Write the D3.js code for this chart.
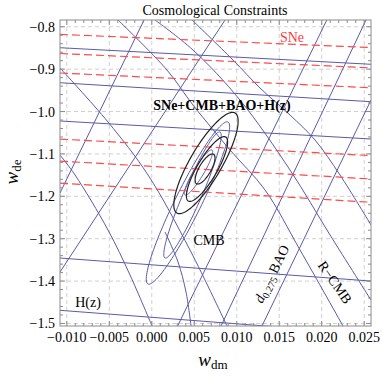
<!DOCTYPE html>
<html>
<head>
<meta charset="utf-8">
<script src="https://cdn.jsdelivr.net/npm/d3@7"></script>
<style>
  body { margin: 0; background: #fff; }
  text { font-family: "Liberation Serif", "DejaVu Serif", serif; }
</style>
</head>
<body>
<div id="chart"></div>
<script>
const WIDTH = 382, HEIGHT = 377;
const margin = {top: 20, right: 11, bottom: 51, left: 60};

// axis ranges and ticks
const xDomain = [-0.0108, 0.0258];
const yDomain = [-1.506, -0.784];
const xTicks = [-0.010, -0.005, 0.000, 0.005, 0.010, 0.015, 0.020, 0.025];
const yTicks = [-0.8, -0.9, -1.0, -1.1, -1.2, -1.3, -1.4, -1.5];

// SNe contours (red dashed), w_de at the left and right edge
const sneLeft  = [-0.818, -0.863, -0.909, -1.065, -1.117, -1.169];
const sneRight = [-0.849, -0.897, -0.944, -1.104, -1.159, -1.214];

// H(z) contours, w_de at the left and right edge
const hzLeft  = [-0.8494, -0.932, -1.0223, -1.3456, -1.469];
const hzRight = [-0.8885, -0.9768, -1.0648, -1.400, -1.525];

// d_0.275 BAO contours, [w_dm, w_de] end points
const bao = [
  [[-0.0108, -1.1922], [-0.00091, -0.784]],
  [[-0.0108, -1.3786], [0.00862, -0.784]],
  [[0.00304, -1.506], [0.0206, -0.784]],
  [[0.00815, -1.506], [0.02521, -0.784]],
  [[0.01297, -1.506], [0.0258, -0.9728]]
];

// R-CMB contours
const rcmb = [
  [[0.00474, -0.784], [0.00956, -0.8784], [0.01274, -0.9445], [0.01627, -1.0082], [0.01921, -1.0672], [0.02215, -1.1497], [0.0258, -1.2677]],
  [[0.00038, -0.784], [0.00485, -0.8548], [0.01038, -0.9728], [0.01627, -1.1379], [0.02098, -1.2913], [0.0258, -1.4447]],
  [[-0.00397, -0.784], [0.00179, -0.902], [0.00485, -0.9846], [0.00921, -1.0907], [0.01333, -1.1851], [0.01745, -1.3267], [0.02251, -1.506]],
  [[-0.0108, -0.8973], [-0.00515, -1.0247], [-0.00044, -1.1497], [0.0045, -1.3267], [0.00885, -1.506]],
  [[0.00156, -1.2842], [0.00309, -1.3550], [0.00403, -1.4258], [0.00462, -1.506]],
  [[-0.0108, -1.1026], [-0.00903, -1.1497], [-0.00515, -1.2795], [-0.00256, -1.3857], [0.00003, -1.506]]
];

// CMB and combined contours: centre, end of major axis, end of minor axis
const cmb = [
  {c: [0.00426, -1.2158], a: [0.00897, -1.0247], b: [0.00564, -1.2295]},
  {c: [0.00479, -1.1969], a: [0.00803, -1.0483], b: [0.00575, -1.2059]},
  {c: [0.00550, -1.1438], a: [0.00709, -1.0907], b: [0.00600, -1.1500]}
];
const joint = [
  {c: [0.00638, -1.1214], a: [0.00980, -1.0034], b: [0.00800, -1.1403]},
  {c: [0.00650, -1.1356], a: [0.00870, -1.0601], b: [0.00752, -1.1474]},
  {c: [0.00627, -1.1356], a: [0.00727, -1.1009], b: [0.00688, -1.1427]}
];

const width = WIDTH - margin.left - margin.right;
const height = HEIGHT - margin.top - margin.bottom;

const x = d3.scaleLinear().domain(xDomain).range([0, width]);
const y = d3.scaleLinear().domain(yDomain).range([height, 0]);

const svg = d3.select('#chart').append('svg')
    .attr('width', WIDTH)
    .attr('height', HEIGHT);

svg.append('defs').append('clipPath').attr('id', 'plotclip')
  .append('rect').attr('width', width).attr('height', height);

const g = svg.append('g')
    .attr('transform', 'translate(' + margin.left + ',' + margin.top + ')');

// grid
g.append('g').selectAll('line').data(xTicks).enter().append('line')
    .attr('x1', d => x(d)).attr('x2', d => x(d))
    .attr('y1', 0).attr('y2', height)
    .attr('stroke', '#d0d0d0').attr('stroke-dasharray', '4,3');
g.append('g').selectAll('line').data(yTicks).enter().append('line')
    .attr('y1', d => y(d)).attr('y2', d => y(d))
    .attr('x1', 0).attr('x2', width)
    .attr('stroke', '#d0d0d0').attr('stroke-dasharray', '4,3');

const plot = g.append('g').attr('clip-path', 'url(#plotclip)');
const line = d3.line().x(d => x(d[0])).y(d => y(d[1]));
const curve = d3.line().x(d => x(d[0])).y(d => y(d[1])).curve(d3.curveCatmullRom);
const BLUE = '#5a5aa8';

function ellipsePath(e) {
  // parametric ellipse built from the centre and the two conjugate half axes
  const cx = x(e.c[0]), cy = y(e.c[1]);
  const ux = x(e.a[0]) - cx, uy = y(e.a[1]) - cy;
  const vx = x(e.b[0]) - cx, vy = y(e.b[1]) - cy;
  const pts = d3.range(0, 2 * Math.PI + 0.01, Math.PI / 60).map(t =>
    [cx + ux * Math.cos(t) + vx * Math.sin(t), cy + uy * Math.cos(t) + vy * Math.sin(t)]);
  return d3.line()(pts) + 'Z';
}

// H(z)
plot.selectAll('.hz').data(hzLeft).enter().append('path')
    .attr('class', 'hz')
    .attr('d', (d, i) => line([[xDomain[0], d], [xDomain[1], hzRight[i]]]))
    .attr('fill', 'none').attr('stroke', BLUE).attr('stroke-width', 1);

// BAO
plot.selectAll('.bao').data(bao).enter().append('path')
    .attr('class', 'bao')
    .attr('d', line)
    .attr('fill', 'none').attr('stroke', BLUE).attr('stroke-width', 1);

// R-CMB
plot.selectAll('.rcmb').data(rcmb).enter().append('path')
    .attr('class', 'rcmb')
    .attr('d', curve)
    .attr('fill', 'none').attr('stroke', BLUE).attr('stroke-width', 1);

// CMB
plot.selectAll('.cmb').data(cmb).enter().append('path')
    .attr('class', 'cmb')
    .attr('d', ellipsePath)
    .attr('fill', 'none').attr('stroke', BLUE).attr('stroke-width', 1);

// SNe
plot.selectAll('.sne').data(sneLeft).enter().append('path')
    .attr('class', 'sne')
    .attr('d', (d, i) => line([[xDomain[0], d], [xDomain[1], sneRight[i]]]))
    .attr('fill', 'none').attr('stroke', '#ff4a4a').attr('stroke-width', 1.2)
    .attr('stroke-dasharray', '8,4');

// joint
plot.selectAll('.joint').data(joint).enter().append('path')
    .attr('class', 'joint')
    .attr('d', ellipsePath)
    .attr('fill', 'none').attr('stroke', '#222').attr('stroke-width', 1.2);

// frame with inward ticks on all sides
const FRAME = '#8c8c8c';
g.append('rect').attr('width', width).attr('height', height)
    .attr('fill', 'none').attr('stroke', FRAME).attr('stroke-width', 1);

const xMinor = d3.range(-10, 26).map(v => v / 1000).filter(v => v >= xDomain[0] && v <= xDomain[1]);
const yMinor = d3.range(-75, -39).map(v => v / 50).filter(v => v >= yDomain[0] && v <= yDomain[1]);
const isMajor = (v, step) => Math.abs(v / step - Math.round(v / step)) < 1e-6;

const ticks = g.append('g').attr('stroke', FRAME).attr('stroke-width', 1);
xMinor.forEach(v => {
  const len = isMajor(v, 0.005) ? 5 : 3;
  ticks.append('line').attr('x1', x(v)).attr('x2', x(v)).attr('y1', height).attr('y2', height - len);
  ticks.append('line').attr('x1', x(v)).attr('x2', x(v)).attr('y1', 0).attr('y2', len);
});
yMinor.forEach(v => {
  const len = isMajor(v, 0.1) ? 5 : 3;
  ticks.append('line').attr('y1', y(v)).attr('y2', y(v)).attr('x1', 0).attr('x2', len);
  ticks.append('line').attr('y1', y(v)).attr('y2', y(v)).attr('x1', width).attr('x2', width - len);
});

const fmtX = d3.format('.3f'), fmtY = d3.format('.1f');
g.append('g').selectAll('text').data(xTicks).enter().append('text')
    .attr('x', d => x(d)).attr('y', height + 16)
    .attr('text-anchor', 'middle').attr('font-size', 14)
    .text(d => fmtX(d).replace('-', '\u2212'));
g.append('g').selectAll('text').data(yTicks).enter().append('text')
    .attr('x', -5).attr('y', d => y(d) + 5)
    .attr('text-anchor', 'end').attr('font-size', 14)
    .text(d => fmtY(d).replace('-', '\u2212'));

// titles
svg.append('text').attr('x', 215).attr('y', 15).attr('text-anchor', 'middle')
    .attr('font-size', 14).text('Cosmological Constraints');

const xl = svg.append('text').attr('x', 213).attr('y', 366).attr('text-anchor', 'middle');
xl.append('tspan').attr('font-style', 'italic').attr('font-size', 19).text('w');
xl.append('tspan').attr('font-size', 13).attr('dy', 3).text('dm');

const yl = svg.append('text').attr('transform', 'translate(18,172) rotate(-90)').attr('text-anchor', 'middle');
yl.append('tspan').attr('font-style', 'italic').attr('font-size', 19).text('w');
yl.append('tspan').attr('font-size', 13).attr('dy', 3).text('de');

// labels in the plot
g.append('text').attr('x', 232).attr('y', 22).attr('text-anchor', 'middle')
    .attr('font-size', 14).attr('fill', '#ff3a3a').text('SNe');
g.append('text').attr('x', 162).attr('y', 90).attr('text-anchor', 'middle')
    .attr('font-size', 14).attr('font-weight', 'bold').text('SNe+CMB+BAO+H(z)');
g.append('text').attr('x', 149).attr('y', 225).attr('text-anchor', 'middle')
    .attr('font-size', 14).text('CMB');
g.append('text').attr('x', 28).attr('y', 287).attr('text-anchor', 'middle')
    .attr('font-size', 14).text('H(z)');
const baoLab = g.append('text').attr('transform', 'translate(216,256) rotate(-64)')
    .attr('text-anchor', 'middle').attr('font-size', 14);
baoLab.append('tspan').attr('font-style', 'italic').text('d');
baoLab.append('tspan').attr('font-size', 10).attr('dy', 3).text('0.275');
baoLab.append('tspan').attr('dy', -3).text(' BAO');
g.append('text').attr('transform', 'translate(271,265) rotate(55)')
    .attr('text-anchor', 'middle').attr('font-size', 14).text('R\u2212CMB');
</script>
</body>
</html>
